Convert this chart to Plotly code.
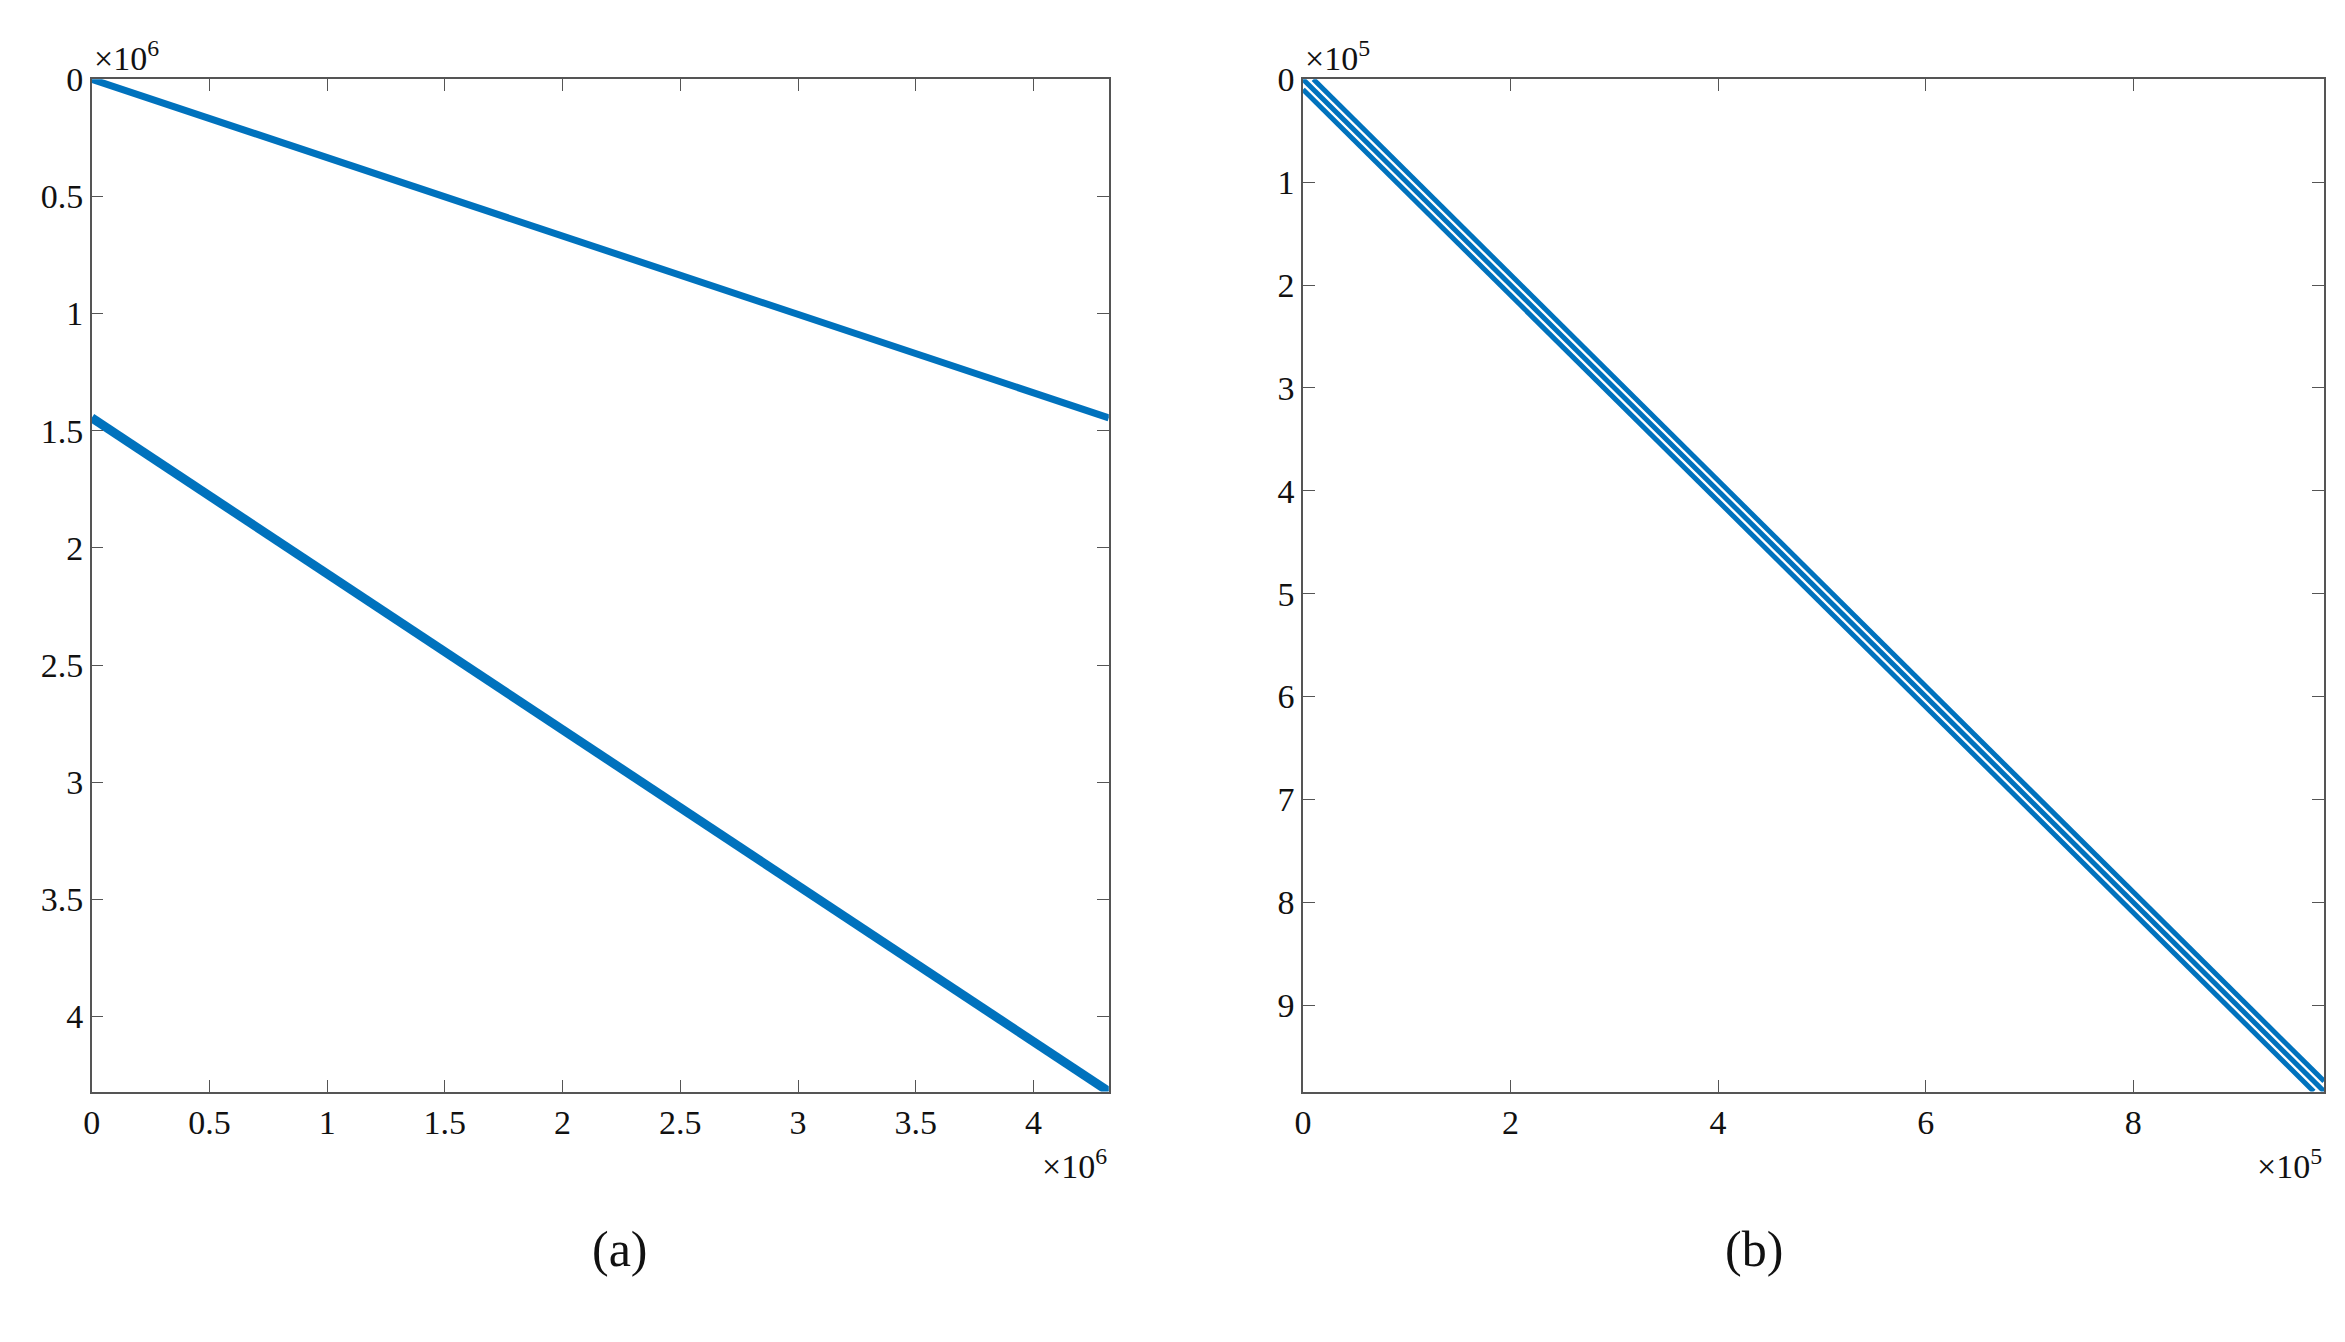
import plotly.graph_objects as go
from plotly.subplots import make_subplots

# (a) two diagonal bands of the sparsity pattern
n_a = 4.32e6
a_top_x = [0, 4.32e6]
a_top_y = [0, 1.445e6]
a_bot_x = [0, 4.32e6]
a_bot_y = [1.445e6, 4.32e6]

# (b) three parallel diagonals
n_b = 9.84e5
b_x = [[0, 9.84e5], [1.0e4, 9.84e5], [0, 9.74e5]]
b_y = [[0, 9.84e5], [0, 9.74e5], [1.0e4, 9.84e5]]

a_ticks = [0, 0.5e6, 1e6, 1.5e6, 2e6, 2.5e6, 3e6, 3.5e6, 4e6]
a_labels = ["0", "0.5", "1", "1.5", "2", "2.5", "3", "3.5", "4"]
b_xticks = [0, 2e5, 4e5, 6e5, 8e5]
b_xlabels = ["0", "2", "4", "6", "8"]
b_yticks = [i * 1e5 for i in range(10)]
b_ylabels = [str(i) for i in range(10)]

blue = "#0072BD"
fig = make_subplots(rows=1, cols=2)

fig.add_trace(go.Scatter(x=a_top_x, y=a_top_y, mode="lines",
                         line=dict(color=blue, width=7)), row=1, col=1)
fig.add_trace(go.Scatter(x=a_bot_x, y=a_bot_y, mode="lines",
                         line=dict(color=blue, width=9)), row=1, col=1)
for xs, ys in zip(b_x, b_y):
    fig.add_trace(go.Scatter(x=xs, y=ys, mode="lines",
                             line=dict(color=blue, width=5)), row=1, col=2)

axis_style = dict(showline=True, linecolor="#555", linewidth=1.5, mirror="ticks",
                  ticks="inside", ticklen=12, tickcolor="#555", showgrid=False,
                  zeroline=False, tickfont=dict(family="Liberation Serif", size=34, color="#111"))

fig.update_xaxes(axis_style)
fig.update_yaxes(axis_style)
fig.update_xaxes(range=[0, n_a], tickvals=a_ticks, ticktext=a_labels,
                 domain=[75 / 2345, 1096 / 2345], row=1, col=1)
fig.update_yaxes(range=[n_a, 0], tickvals=a_ticks, ticktext=a_labels, row=1, col=1)
fig.update_xaxes(range=[0, n_b], tickvals=b_xticks, ticktext=b_xlabels,
                 domain=[1291 / 2345, 2316 / 2345], row=1, col=2)
fig.update_yaxes(range=[n_b, 0], tickvals=b_yticks, ticktext=b_ylabels, row=1, col=2)
fig.update_yaxes(domain=[1 - 1080 / 1342, 1 - 54 / 1342])

serif = dict(family="Liberation Serif", size=34, color="#111")
notes = [
    (75 / 2345, 1 - 54 / 1342, "×10<sup>6</sup>", "left", "bottom"),
    (1096 / 2345, 1 - 1130 / 1342, "×10<sup>6</sup>", "right", "top"),
    (1291 / 2345, 1 - 54 / 1342, "×10<sup>5</sup>", "left", "bottom"),
    (2316 / 2345, 1 - 1130 / 1342, "×10<sup>5</sup>", "right", "top"),
]
for x, y, t, xa, ya in notes:
    fig.add_annotation(x=x, y=y, xref="paper", yref="paper", text=t, showarrow=False,
                       xanchor=xa, yanchor=ya, font=serif)
fig.add_annotation(x=575 / 2345, y=1 - 1270 / 1342, xref="paper", yref="paper", text="(a)",
                   showarrow=False, font=dict(family="Liberation Serif", size=50, color="#111"))
fig.add_annotation(x=1775 / 2345, y=1 - 1270 / 1342, xref="paper", yref="paper", text="(b)",
                   showarrow=False, font=dict(family="Liberation Serif", size=50, color="#111"))

fig.update_layout(width=2345, height=1342, showlegend=False, plot_bgcolor="white",
                  paper_bgcolor="white", margin=dict(l=0, r=0, t=0, b=0))
fig.write_html("out.html")
